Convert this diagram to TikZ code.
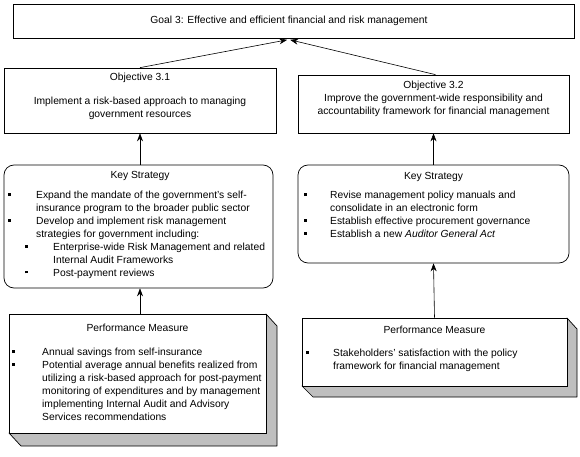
\documentclass[tikz,border=0pt]{standalone}
\usepackage{fontspec}
\setmainfont{Liberation Sans}
\usetikzlibrary{arrows.meta,calc}
\newcommand{\bsq}[1]{\makebox[#1][l]{\rule[2.6pt]{2.8pt}{2.8pt}}}
\begin{document}
\begin{tikzpicture}[x=1pt,y=-1pt,
  box/.style={draw,line width=0.7pt,fill=white,inner sep=0pt},
  rbox/.style={box,rounded corners=10pt},
  txt/.style={inner sep=0pt,align=left,anchor=north west,font=\fontsize{10.3}{12.9}\selectfont},
  ctxt/.style={inner sep=0pt,align=center,font=\fontsize{10.3}{12.9}\selectfont},
  arr/.style={line width=0.6pt,-{Stealth[length=8pt,width=6pt]}},
  shade/.style={fill=black!25,draw,line width=0.7pt,line join=round}]
\useasboundingbox (0,0) rectangle (580,457);
% boxes
\node[box,minimum width=561pt,minimum height=34pt] (goal) at (293.5,21.5) {};
\node[box,minimum width=272pt,minimum height=65pt] (obj1) at (140,100.5) {};
\node[box,minimum width=271pt,minimum height=58pt] (obj2) at (433.5,104) {};
\node[rbox,minimum width=269pt,minimum height=123pt] (ks1) at (138.5,226.5) {};
\node[rbox,minimum width=271pt,minimum height=98pt] (ks2) at (433.5,214) {};
% 3D boxes
\filldraw[shade] (266,314) -- (277,326) -- (277,446) -- (21,446) -- (9,433) -- (266,433) -- cycle;
\node[box,minimum width=257pt,minimum height=119pt] (pm1) at (137.5,373.5) {};
\filldraw[shade] (567,318) -- (577,329) -- (577,397) -- (313,397) -- (302,386) -- (567,386) -- cycle;
\node[box,minimum width=265pt,minimum height=68pt] (pm2) at (434.5,352) {};
% texts
\node[ctxt] (tgoal) at (289,21) {Goal 3: Effective and efficient financial and risk management};
\node[ctxt] (tobj1a) at (140,77.5) {Objective 3.1};
\node[ctxt] (tobj1b) at (140,108.5) {Implement a risk-based approach to managing\\government resources};
\node[ctxt] (tobj2) at (433.5,98.5) {Objective 3.2\\Improve the government-wide responsibility and\\accountability framework for financial management};
\node[ctxt] (tks1) at (140,176) {Key Strategy};
\node[txt] (lks1) at (8,191) {\bsq{28pt}Expand the mandate of the government's self-\\
\hspace*{28pt}insurance program to the broader public sector\\
\bsq{28pt}Develop and implement risk management\\
\hspace*{28pt}strategies for government including:\\
\hspace*{17pt}\bsq{28pt}Enterprise-wide Risk Management and related\\
\hspace*{45pt}Internal Audit Frameworks\\
\hspace*{17pt}\bsq{28pt}Post-payment reviews};
\node[ctxt] (tks2) at (433.5,177) {Key Strategy};
\node[txt] (lks2) at (304,191) {\bsq{26pt}Revise management policy manuals and\\
\hspace*{26pt}consolidate in an electronic form\\
\bsq{26pt}Establish effective procurement governance\\
\bsq{26pt}Establish a new \emph{Auditor General Act}};
\node[ctxt] (tpm1) at (137.5,328) {Performance Measure};
\node[txt] (lpm1) at (12,348) {\bsq{30pt}Annual savings from self-insurance\\
\bsq{30pt}Potential average annual benefits realized from\\
\hspace*{30pt}utilizing a risk-based approach for post-payment\\
\hspace*{30pt}monitoring of expenditures and by management\\
\hspace*{30pt}implementing Internal Audit and Advisory\\
\hspace*{30pt}Services recommendations};
\node[ctxt] (tpm2) at (434.5,330) {Performance Measure};
\node[txt] (lpm2) at (306,349) {\bsq{27pt}Stakeholders' satisfaction with the policy\\
\hspace*{27pt}framework for financial management};
% connectors
\coordinate (g1) at ($(goal.south west)+(274.5,1)$);
\coordinate (g2) at ($(goal.south west)+(277.5,1)$);
\draw[arr] (obj1.north) -- (g1);
\draw[arr] ($(obj2.north)+(2,0)$) -- (g2);
\draw[arr] ($(ks1.north)+(1.5,0)$) -- ($(obj1.south)$);
\draw[arr] (ks2.north) -- (obj2.south);
\draw[arr] ($(pm1.north)+(2.5,0)$) -- ($(ks1.south)+(1.5,0)$);
\draw[arr] (pm2.north) -- (ks2.south);
\end{tikzpicture}
\end{document}
